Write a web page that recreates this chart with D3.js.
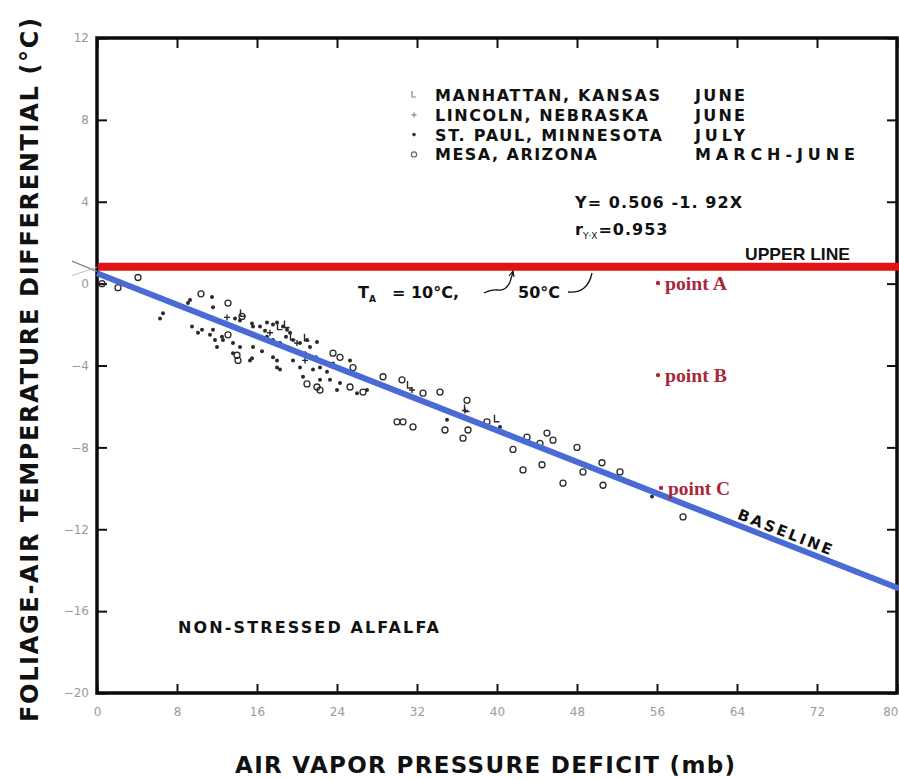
<!DOCTYPE html>
<html>
<head>
<meta charset="utf-8">
<script src="https://cdn.jsdelivr.net/npm/d3@7"></script>
<style>
  body { margin: 0; background: #fff; }
  svg { display: block; font-family: "DejaVu Sans", "Liberation Sans", sans-serif; }
</style>
</head>
<body>
<svg id="chart" width="899" height="780"></svg>
<script>
// axis ticks
const xTicks = [0, 8, 16, 24, 32, 40, 48, 56, 64, 72, 80];
const yTicks = [12, 8, 4, 0, -4, -8, -12, -16, -20];

// regression (X in kPa in the printed equation, axis in mb)
const baseIntercept = 0.506;
const baseSlope = -0.192;
const upperLineY = 0.83;

// Mesa, Arizona (open circles)
const mesa = [
  [0.5,0.0],[2.1,-0.2],[4.1,0.3],[10.4,-0.5],[13.1,-0.95],[14.5,-1.6],[13.1,-2.5],
  [14.1,-3.75],[14.0,-3.5],[21.0,-4.9],[23.6,-3.4],[24.3,-3.6],[25.6,-4.1],[25.3,-5.05],
  [26.6,-5.3],[22.0,-5.05],[22.3,-5.2],[28.6,-4.55],[30.5,-4.7],[32.6,-5.35],[34.3,-5.3],
  [30.0,-6.75],[30.6,-6.75],[31.6,-7.0],[34.8,-7.15],[37.0,-5.7],[37.1,-7.15],[36.6,-7.55],
  [39.0,-6.75],[43.0,-7.5],[41.6,-8.1],[42.6,-9.1],[44.3,-7.8],[45.0,-7.3],[45.6,-7.65],
  [44.5,-8.85],[46.6,-9.75],[48.0,-8.0],[48.6,-9.2],[50.5,-8.75],[50.6,-9.85],[52.3,-9.2],
  [58.6,-11.4]
];

// St. Paul, Minnesota (dots)
const stPaul = [
  [11.5,-0.65],[9.3,-0.8],[9.1,-0.95],[11.6,-1.15],[6.6,-1.45],[6.3,-1.7],[9.5,-2.1],
  [10.5,-2.25],[10.1,-2.4],[11.6,-2.25],[11.3,-2.5],[11.8,-2.75],[12.5,-2.6],[12.0,-3.1],
  [13.6,-2.9],[13.8,-1.7],[15.5,-1.95],[15.3,-3.75],[13.6,-3.4],[14.3,-1.8],[12.6,-2.75],
  [15.0,-2.4],[15.6,-2.1],[16.3,-2.1],[17.0,-1.9],[18.0,-1.9],[18.6,-2.1],[19.0,-2.25],
  [17.0,-2.6],[17.6,-2.75],[18.3,-2.9],[19.6,-2.75],[20.3,-2.9],[21.0,-2.75],[21.3,-3.1],
  [14.3,-3.1],[15.5,-3.65],[15.6,-3.1],[17.6,-3.6],[18.0,-4.1],[18.3,-4.2],[19.6,-3.75],
  [20.3,-4.1],[20.6,-4.55],[21.6,-4.2],[22.3,-4.1],[22.3,-4.7],[23.6,-3.9],[24.6,-4.2],
  [24.3,-4.85],[23.3,-4.7],[17.6,-2.0],[19.3,-2.4],[22.0,-2.85],[18.0,-3.75],[24.0,-5.2],
  [26.0,-5.35],[27.0,-5.2],[25.3,-3.75],[35.0,-6.65],[40.3,-7.0],[55.5,-10.4],
  [16.8,-2.3],[18.9,-2.6],[20.8,-3.4],[16.5,-3.3],[19.0,-3.1],[21.9,-3.6],[23.0,-4.3]
];

// Manhattan, Kansas (L marks)
const manhattan = [
  [18.3,-2.1],[19.0,-2.0],[14.6,-1.45],[31.3,-4.95],[37.0,-6.1],[40.0,-6.6],[19.6,-2.6],[21.0,-2.65]
];

// Lincoln, Nebraska (+ marks)
const lincoln = [
  [20.0,-2.9],[31.5,-5.2],[36.8,-6.2],[17.3,-2.4],[13.0,-1.65],[20.8,-3.75]
];

// highlighted points
const redPoints = [
  {label: "point A", x: 56.1, y: 0.03},
  {label: "point B", x: 56.1, y: -4.47},
  {label: "point C", x: 56.4, y: -9.98}
];

const legendRows = [
  {sym: "L", site: "MANHATTAN, KANSAS", month: "JUNE"},
  {sym: "+", site: "LINCOLN, NEBRASKA", month: "JUNE"},
  {sym: "dot", site: "ST. PAUL, MINNESOTA", month: "JULY"},
  {sym: "o", site: "MESA, ARIZONA", month: "MARCH-JUNE"}
];

const svg = d3.select("#chart");
const x = d3.scaleLinear().domain([0, 80]).range([97, 897]);
const y = d3.scaleLinear().domain([-20, 12]).range([693, 38]);

const ink = "#2a2a2a";

// tick labels (gray, faint like the scan)
const xAxis = svg.append("g")
  .attr("transform", `translate(0,${y(-20)})`)
  .call(d3.axisBottom(x).tickValues(xTicks).tickSize(-9).tickPadding(14).tickFormat(d3.format("d")));
const yAxis = svg.append("g")
  .attr("transform", `translate(${x(0)},0)`)
  .call(d3.axisLeft(y).tickValues(yTicks).tickSize(-10).tickPadding(8).tickFormat(d3.format("d")));
const xTop = svg.append("g")
  .attr("transform", `translate(0,${y(12)})`)
  .call(d3.axisTop(x).tickValues(xTicks).tickSize(-10).tickFormat(""));
const yRight = svg.append("g")
  .attr("transform", `translate(${x(80)},0)`)
  .call(d3.axisRight(y).tickValues(yTicks).tickSize(-10).tickFormat(""));

[xAxis, yAxis, xTop, yRight].forEach(a => {
  a.select(".domain").remove();
  a.selectAll(".tick line").attr("stroke", "#111").attr("stroke-width", 2);
  a.selectAll(".tick text").attr("fill", "#9a9a9a").style("font-size", "12px")
    .style("font-family", "'DejaVu Sans', sans-serif");
});
// last x label sits against the right edge like in the scan
xAxis.selectAll(".tick text").filter(d => d === 80)
  .attr("text-anchor", "end").attr("dx", 1);

// frame
svg.append("rect")
  .attr("x", x(0)).attr("y", y(12))
  .attr("width", x(80) - x(0)).attr("height", y(-20) - y(12))
  .attr("fill", "none").attr("stroke", "#0a0a0a").attr("stroke-width", 3.5);

// faint converging guide lines left of the axis
svg.append("line")
  .attr("x1", x(-2.5)).attr("y1", y(1.1)).attr("x2", x(0)).attr("y2", y(0.6))
  .attr("stroke", "#888").attr("stroke-width", 1.2);
svg.append("line")
  .attr("x1", x(-2.5)).attr("y1", y(0.4)).attr("x2", x(0)).attr("y2", y(0.8))
  .attr("stroke", "#bbb").attr("stroke-width", 1);

// scatter marks
const g = svg.append("g");
g.selectAll("circle.mesa").data(mesa).join("circle")
  .attr("class", "mesa")
  .attr("cx", d => x(d[0])).attr("cy", d => y(d[1])).attr("r", 3)
  .attr("fill", "none").attr("stroke", ink).attr("stroke-width", 1.3);
g.selectAll("circle.stpaul").data(stPaul).join("circle")
  .attr("class", "stpaul")
  .attr("cx", d => x(d[0])).attr("cy", d => y(d[1])).attr("r", 2)
  .attr("fill", ink);
g.selectAll("path.manhattan").data(manhattan).join("path")
  .attr("class", "manhattan")
  .attr("d", d => `M${x(d[0]) - 2.5},${y(d[1]) - 4}v7h5`)
  .attr("fill", "none").attr("stroke", ink).attr("stroke-width", 1.4);
g.selectAll("path.lincoln").data(lincoln).join("path")
  .attr("class", "lincoln")
  .attr("d", d => `M${x(d[0]) - 3},${y(d[1])}h6M${x(d[0])},${y(d[1]) - 3}v6`)
  .attr("fill", "none").attr("stroke", ink).attr("stroke-width", 1.4);

// upper line (red)
svg.append("line")
  .attr("x1", x(0) + 1).attr("x2", 899)
  .attr("y1", y(upperLineY)).attr("y2", y(upperLineY))
  .attr("stroke", "#e01414").attr("stroke-width", 8);

// baseline (blue)
const blueEnd = 80.2;
svg.append("line")
  .attr("x1", x(0)).attr("y1", y(baseIntercept))
  .attr("x2", x(blueEnd)).attr("y2", y(baseIntercept + baseSlope * blueEnd))
  .attr("stroke", "#4a6bd6").attr("stroke-width", 6);

// red points
svg.selectAll("circle.red").data(redPoints).join("circle")
  .attr("class", "red")
  .attr("cx", d => x(d.x)).attr("cy", d => y(d.y)).attr("r", 2.2)
  .attr("fill", "#b0283a");
svg.selectAll("text.red").data(redPoints).join("text")
  .attr("class", "red")
  .attr("x", d => x(d.x) + 7).attr("y", d => y(d.y) + 7)
  .attr("textLength", 62).attr("lengthAdjust", "spacingAndGlyphs")
  .style("font-family", "'Liberation Serif', 'DejaVu Serif', serif")
  .style("font-weight", "bold").style("font-size", "18px")
  .attr("fill", "#a8283a")
  .text(d => d.label);

// legend
const bold = sel => sel.style("font-weight", "bold").attr("fill", "#111");
const lg = svg.append("g");
legendRows.forEach((r, i) => {
  const by = 101 + i * 19.8;
  const sx = 414, sy = by - 6;
  if (r.sym === "L") {
    lg.append("path").attr("d", `M${sx - 2},${sy - 4}v6h4`).attr("fill", "none").attr("stroke", "#888").attr("stroke-width", 1.2);
  } else if (r.sym === "+") {
    lg.append("path").attr("d", `M${sx - 2.5},${sy}h5M${sx},${sy - 2.5}v5`).attr("fill", "none").attr("stroke", "#888").attr("stroke-width", 1.2);
  } else if (r.sym === "dot") {
    lg.append("circle").attr("cx", sx).attr("cy", sy).attr("r", 1.8).attr("fill", "#333");
  } else {
    lg.append("circle").attr("cx", sx).attr("cy", sy).attr("r", 2.6).attr("fill", "none").attr("stroke", "#666").attr("stroke-width", 1.2);
  }
  const siteLen = [225, 213, 227, 162][i];
  const monthLen = [50, 50, 50, 160][i];
  lg.append("text").attr("x", 435).attr("y", by).call(bold)
    .style("font-size", "16px").attr("textLength", siteLen).attr("lengthAdjust", "spacing")
    .text(r.site);
  lg.append("text").attr("x", 695).attr("y", by).call(bold)
    .style("font-size", "16px").attr("textLength", monthLen).attr("lengthAdjust", "spacing")
    .text(r.month);
});

// equation
svg.append("text").attr("x", 575).attr("y", 208).call(bold)
  .style("font-size", "16px").attr("textLength", 167).attr("lengthAdjust", "spacing")
  .text("Y= 0.506 -1. 92X");
const rt = svg.append("text").attr("x", 575).attr("y", 235).call(bold).style("font-size", "16px");
rt.append("tspan").text("r");
rt.append("tspan").attr("dy", 4).style("font-size", "9px").style("font-weight", "normal").text("Y·X");
rt.append("tspan").attr("dy", -4).attr("dx", 1).style("letter-spacing", "1px").text("=0.953");

// UPPER LINE label
svg.append("text").attr("x", 745).attr("y", 260).call(bold)
  .style("font-family", "'Liberation Sans', Arial, sans-serif")
  .style("font-size", "17px").attr("textLength", 105).attr("lengthAdjust", "spacingAndGlyphs")
  .text("UPPER LINE");

// T_A label with leaders
const ta = svg.append("text").attr("x", 358).attr("y", 298).call(bold).style("font-size", "16px");
ta.append("tspan").text("T");
ta.append("tspan").attr("dy", 4).style("font-size", "9px").text("A");
ta.append("tspan").attr("dy", -4).attr("x", 392).text("= 10°C,");
ta.append("tspan").attr("x", 518).text("50°C");
svg.append("path")
  .attr("d", "M484,293 q8,-4 14,-3 q8,1 12,-8 l3,-10")
  .attr("fill", "none").attr("stroke", "#111").attr("stroke-width", 1.3);
svg.append("path").attr("d", "M509,276 l4,-5 l1,6")
  .attr("fill", "none").attr("stroke", "#111").attr("stroke-width", 1.2);
svg.append("path")
  .attr("d", "M568,292 q10,1 16,-4 q6,-5 8,-15")
  .attr("fill", "none").attr("stroke", "#111").attr("stroke-width", 1.3);

// BASELINE label along the blue line
const bx = 68.6;
const angle = Math.atan2(y(baseSlope * 10) - y(0), x(10) - x(0)) * 180 / Math.PI;
svg.append("text")
  .attr("transform", `translate(${x(bx)},${y(baseIntercept + baseSlope * bx) - 6}) rotate(${angle})`)
  .attr("text-anchor", "middle").call(bold)
  .style("font-size", "15px")
  .attr("textLength", 100).attr("lengthAdjust", "spacing")
  .text("BASELINE");

// NON-STRESSED ALFALFA
svg.append("text").attr("x", 178).attr("y", 633).call(bold)
  .style("font-size", "16px").attr("textLength", 261).attr("lengthAdjust", "spacing")
  .text("NON-STRESSED ALFALFA");

// axis titles
svg.append("text")
  .attr("transform", "translate(38,370) rotate(-90)")
  .attr("text-anchor", "middle").call(bold)
  .style("font-size", "24px").attr("textLength", 704).attr("lengthAdjust", "spacing")
  .text("FOLIAGE-AIR TEMPERATURE DIFFERENTIAL (°C)");
svg.append("text")
  .attr("x", 485).attr("y", 773)
  .attr("text-anchor", "middle").call(bold)
  .style("font-size", "23px").attr("textLength", 500).attr("lengthAdjust", "spacing")
  .text("AIR VAPOR PRESSURE DEFICIT (mb)");
</script>
</body>
</html>
